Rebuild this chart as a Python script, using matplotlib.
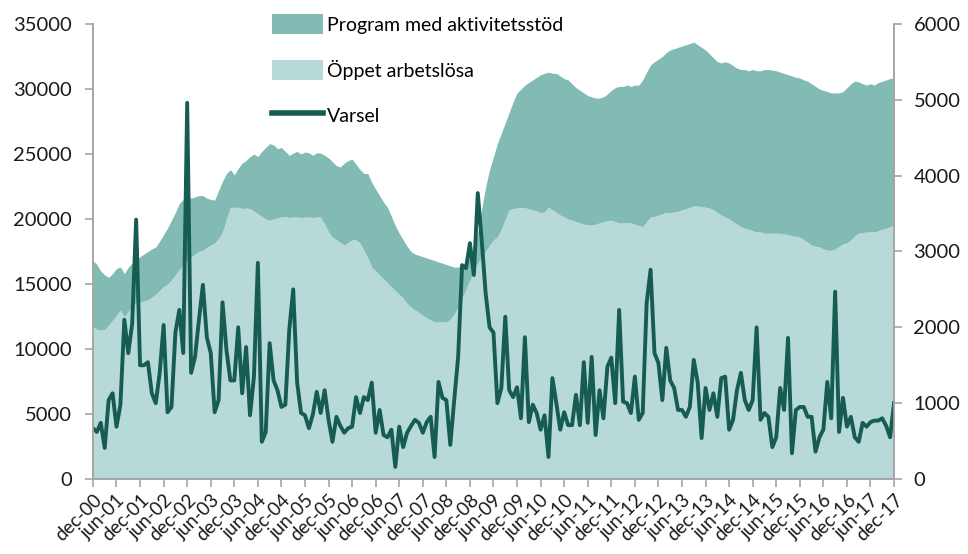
import numpy as np
import matplotlib
matplotlib.use('Agg')
import matplotlib.pyplot as plt
from matplotlib.patches import Patch
from matplotlib.lines import Line2D

plt.rcParams['font.family'] = ['Lato', 'DejaVu Sans']

# monthly data dec-00 .. dec-17
oppet = [11700,
         11500, 11460, 11500, 11850, 12200, 12600, 13000, 12460, 12900, 13300, 13540, 13600,
         13700, 13770, 14000, 14200, 14500, 14800, 15000, 15300, 15700, 16100, 16500, 16850,
         17100, 17300, 17500, 17600, 17800, 18000, 18150, 18500, 19000, 20000, 20900, 20900,
         20900, 20800, 20850, 20800, 20600, 20400, 20200, 20000, 19900, 20000, 20100, 20150,
         20200, 20100, 20150, 20150, 20100, 20150, 20150, 20100, 20150, 20150, 19600, 19000,
         18600, 18400, 18200, 18000, 18200, 18400, 18400, 18150, 17600, 17000, 16300, 16000,
         15700, 15400, 15100, 14770, 14500, 14200, 13900, 13500, 13230, 13000, 12800, 12600,
         12400, 12230, 12100, 12100, 12080, 12080, 12300, 12700, 13230, 13900, 14600, 15300,
         16000, 16600, 17080, 17500, 18000, 18400, 18600, 19200, 20000, 20700, 20800, 20850,
         20900, 20850, 20800, 20700, 20600, 20500, 20540, 20900, 20700, 20500, 20300, 20150,
         20000, 19900, 19800, 19700, 19600, 19550, 19540, 19600, 19700, 19800, 19850, 19900,
         19800, 19700, 19700, 19700, 19700, 19600, 19500, 19400, 19800, 20150, 20200, 20300,
         20400, 20500, 20500, 20540, 20600, 20700, 20800, 20900, 21000, 21000, 20950, 20900,
         20850, 20700, 20500, 20300, 20150, 20000, 19800, 19600, 19400, 19300, 19200, 19100,
         19000, 19000, 18900, 18900, 18900, 18900, 18900, 18850, 18800, 18700, 18650, 18600,
         18400, 18200, 18000, 17900, 17850, 17700, 17600, 17600, 17700, 17900, 18100, 18150,
         18400, 18700, 18900, 18950, 19000, 19000, 19000, 19100, 19200, 19300, 19400, 19540]

totalt = [16800,
          16500, 16000, 15700, 15500, 15800, 16200, 16300, 15800, 16300, 16600, 16800, 17100,
          17300, 17500, 17700, 17850, 18300, 18800, 19300, 19900, 20500, 21200, 21500, 21700,
          21600, 21700, 21800, 21800, 21600, 21500, 21450, 22200, 22900, 23500, 23800, 23400,
          23900, 24300, 24500, 24800, 25000, 24800, 25200, 25500, 25800, 25700, 25400, 25500,
          25200, 24900, 25070, 25200, 25000, 25150, 25100, 24900, 25100, 25070, 24900, 24700,
          24400, 24100, 24000, 24300, 24500, 24600, 24200, 23800, 23500, 23500, 22800, 22300,
          21800, 21300, 20900, 20200, 19500, 18900, 18400, 17900, 17500, 17300, 17200, 17100,
          17000, 16900, 16800, 16700, 16600, 16500, 16400, 16300, 16300, 16400, 16700, 17200,
          17600, 19000, 20800, 22460, 23800, 24800, 25800, 26600, 27400, 28200, 29000, 29700,
          30000, 30300, 30500, 30700, 30900, 31100, 31200, 31300, 31200, 31200, 31000, 30800,
          30700, 30400, 30100, 29900, 29700, 29500, 29400, 29300, 29300, 29400, 29600, 29900,
          30100, 30200, 30200, 30300, 30200, 30300, 30300, 30700, 31300, 31850, 32100, 32300,
          32500, 32800, 33000, 33100, 33200, 33300, 33400, 33500, 33600, 33400, 33200, 33000,
          32700, 32400, 32100, 32000, 32100, 32000, 31800, 31600, 31500, 31500, 31400, 31500,
          31400, 31400, 31500, 31500, 31460, 31400, 31300, 31200, 31100, 31000, 30900, 30850,
          30700, 30600, 30400, 30200, 30000, 29900, 29800, 29700, 29700, 29700, 29800, 30100,
          30400, 30600, 30550, 30400, 30300, 30400, 30300, 30500, 30600, 30700, 30800, 30850]

varsel = [670,
          620, 740, 410, 1040, 1130, 690, 980, 2100, 1660, 2050, 3420, 1500,
          1500, 1540, 1130, 1000, 1400, 2030, 880, 950, 1930, 2230, 1660, 4960,
          1400, 1610, 2100, 2560, 1870, 1660, 880, 1040, 2330, 1700, 1300, 1300,
          2000, 1130, 1740, 840, 1350, 2850, 490, 620, 1790, 1300, 1170, 950,
          980, 1970, 2500, 1270, 870, 840, 670, 850, 1150, 870, 1170, 780,
          490, 820, 700, 610, 670, 690, 1080, 870, 1080, 1040, 1270, 610,
          910, 580, 550, 650, 160, 690, 420, 610, 700, 780, 740, 610,
          750, 820, 290, 1280, 1070, 1040, 450, 1040, 1610, 2820, 2780, 3110,
          2690, 3770, 3150, 2450, 2000, 1930, 1000, 1200, 2140, 1170, 1080, 1210,
          800, 1870, 750, 980, 870, 650, 840, 290, 1330, 1000, 650, 880,
          710, 710, 1110, 710, 1540, 740, 1610, 580, 1170, 800, 1480, 1600,
          1000, 2230, 1020, 1000, 870, 1350, 780, 870, 2320, 2760, 1660, 1530,
          1040, 1730, 1300, 1200, 910, 910, 820, 950, 1570, 1270, 540, 1200,
          910, 1130, 820, 1330, 1350, 650, 780, 1170, 1400, 1040, 910, 1040,
          2000, 780, 870, 820, 420, 550, 1200, 910, 1860, 340, 910, 950,
          950, 820, 820, 360, 550, 650, 1280, 800, 2470, 620, 1070, 690,
          820, 550, 490, 740, 690, 750, 770, 770, 800, 700, 550, 1000]

years = ['%02d' % y for y in range(1, 18)]
tick_labels = ['dec-00']
for y in years:
    tick_labels += ['jun-' + y, 'dec-' + y]

col_prog  = '#82bbb4'
col_oppet = '#b7dad8'
col_line  = '#165c52'
col_axis  = '#a6a6a6'

x = np.arange(len(oppet))

fig = plt.figure(figsize=(9.68, 5.54), dpi=100)
ax = fig.add_axes([0.096, 0.1354, 0.8276, 0.8213])
ax.fill_between(x, 0, oppet, color=col_oppet, linewidth=0)
ax.fill_between(x, oppet, totalt, color=col_prog, linewidth=0)
ax.set_xlim(0, len(oppet) - 1)
ax.set_ylim(0, 35000)
ax.set_yticks(np.arange(0, 35001, 5000))
ax.set_xticks(np.arange(0, len(oppet), 6))
ax.set_xticklabels(tick_labels, rotation=45, ha='right', rotation_mode='anchor')

ax2 = ax.twinx()
ax2.plot(x, varsel, color=col_line, linewidth=2.8, solid_joinstyle='round')
ax2.set_ylim(0, 6000)
ax2.set_yticks(np.arange(0, 6001, 1000))

for a in (ax, ax2):
    a.spines['top'].set_visible(False)
    for s in ('left', 'right', 'bottom'):
        a.spines[s].set_color(col_axis)
        a.spines[s].set_linewidth(1.2)
    a.tick_params(axis='both', which='both', direction='out', length=6, width=1.2,
                  color=col_axis, labelsize=14.5, labelcolor='#1a1a1a')
ax.tick_params(axis='x', labelsize=13.5, pad=3)
ax.tick_params(axis='y', pad=9)
ax2.tick_params(axis='y', pad=8)

handles = [Patch(facecolor=col_prog, edgecolor='none'),
           Patch(facecolor=col_oppet, edgecolor='none'),
           Line2D([0], [0], color=col_line, linewidth=4)]
labels = ['Program med aktivitetsstöd', 'Öppet arbetslösa', 'Varsel']
leg = ax2.legend(handles, labels, loc='upper left', bbox_to_anchor=(0.263, 1.006),
                 bbox_transform=fig.transFigure, frameon=False, fontsize=14,
                 handlelength=2.6, handleheight=1.2, handletextpad=0.2, labelspacing=1.3)

fig.savefig('out.png', dpi=100)
